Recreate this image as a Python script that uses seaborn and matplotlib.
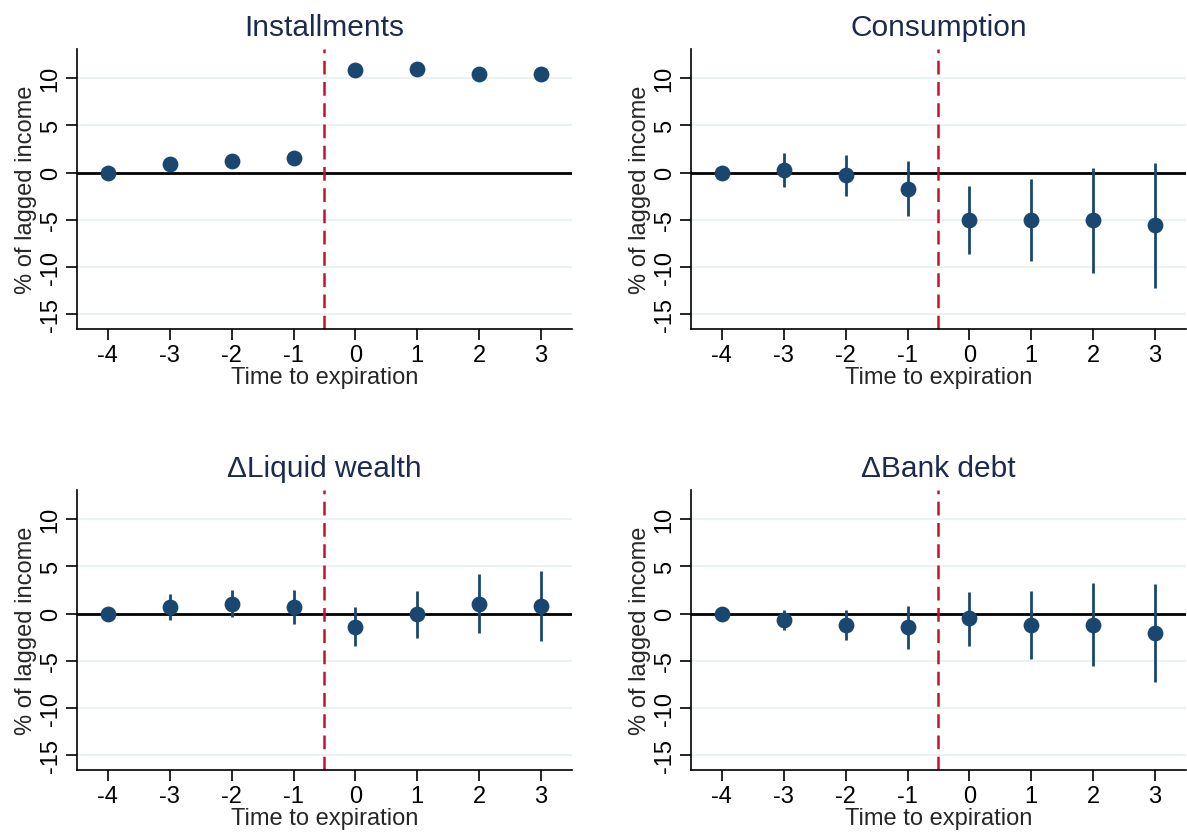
import numpy as np
import pandas as pd
import matplotlib
matplotlib.use("Agg")
import matplotlib.pyplot as plt
import seaborn as sns

# event time
periods = [-4, -3, -2, -1, 0, 1, 2, 3]

titles = ["Installments", "Consumption", "\u0394Liquid wealth", "\u0394Bank debt"]

installments = [0.0, 0.92, 1.2, 1.55, 10.9, 11.0, 10.5, 10.45]
installments_lo = [0.0, 0.75, 1.0, 1.35, 10.6, 10.7, 10.2, 9.8]
installments_hi = [0.0, 1.1, 1.4, 1.75, 11.2, 11.3, 10.8, 11.1]

consumption = [0.0, 0.28, -0.28, -1.73, -5.05, -5.02, -5.09, -5.58]
consumption_lo = [0.0, -1.52, -2.5, -4.63, -8.66, -9.36, -10.67, -12.3]
consumption_hi = [0.0, 2.12, 1.9, 1.17, -1.45, -0.67, 0.53, 1.06]

liquid = [0.0, 0.7, 1.06, 0.7, -1.41, -0.1, 1.06, 0.81]
liquid_lo = [0.0, -0.67, -0.39, -1.09, -3.49, -2.57, -2.11, -2.96]
liquid_hi = [0.0, 2.1, 2.46, 2.46, 0.7, 2.43, 4.15, 4.54]

bank = [0.0, -0.7, -1.23, -1.48, -0.53, -1.2, -1.2, -2.08]
bank_lo = [0.0, -1.76, -2.82, -3.73, -3.42, -4.82, -5.56, -7.29]
bank_hi = [0.0, 0.35, 0.35, 0.77, 2.32, 2.43, 3.2, 3.1]

series = [
    (installments, installments_lo, installments_hi),
    (consumption, consumption_lo, consumption_hi),
    (liquid, liquid_lo, liquid_hi),
    (bank, bank_lo, bank_hi),
]

navy = "#1a476f"
title_col = "#1c2b4d"

sns.set_style("white")
plt.rcParams["font.family"] = ["Liberation Sans", "DejaVu Sans"]
plt.rcParams["axes.unicode_minus"] = False

fig = plt.figure(figsize=(11.87, 8.37), dpi=100)
W, H = 1187, 837
boxes = [(77, 50, 572, 330), (691, 50, 1186, 330),
         (77, 491, 572, 771), (691, 491, 1186, 771)]

for (x0, y0, x1, y1), title, (est, lo, hi) in zip(boxes, titles, series):
    ax = fig.add_axes([x0 / W, 1 - y1 / H, (x1 - x0) / W, (y1 - y0) / H])
    df = pd.DataFrame({"t": periods, "b": est, "lo": lo, "hi": hi})

    for yv in [-15, -10, -5, 5, 10]:
        ax.axhline(yv, color="#eaf2f3", lw=1.5, zorder=0)
    ax.axhline(0, color="black", lw=2, zorder=1)
    ax.axvline(-0.5, color="#c8102e", lw=1.8, dashes=(5.5, 3), zorder=2)

    ax.vlines(df["t"], df["lo"], df["hi"], color=navy, lw=2, zorder=3)
    sns.scatterplot(data=df, x="t", y="b", ax=ax, color=navy, s=130,
                    edgecolor=navy, linewidth=0, zorder=4, legend=False)

    ax.set_xlim(-4.5, 3.5)
    ax.set_ylim(-16.6, 13.1)
    ax.set_xticks(periods)
    ax.set_yticks([-15, -10, -5, 0, 5, 10])
    ax.set_yticklabels(["-15", "-10", "-5", "0", "5", "10"], rotation=90,
                       va="center")
    ax.tick_params(axis="both", direction="out", length=8, width=1.2,
                   labelsize=17, color="black", labelcolor="black", pad=3,
                   left=True, bottom=True)
    for side in ["top", "right"]:
        ax.spines[side].set_visible(False)
    for side in ["left", "bottom"]:
        ax.spines[side].set_color("black")
        ax.spines[side].set_linewidth(1.2)

    ax.set_xlabel("Time to expiration", fontsize=17, labelpad=0)
    ax.set_ylabel("% of lagged income", fontsize=17, labelpad=2)
    ax.set_title(title, fontsize=21.5, color=title_col, pad=10)

fig.savefig("out.png", dpi=100)
